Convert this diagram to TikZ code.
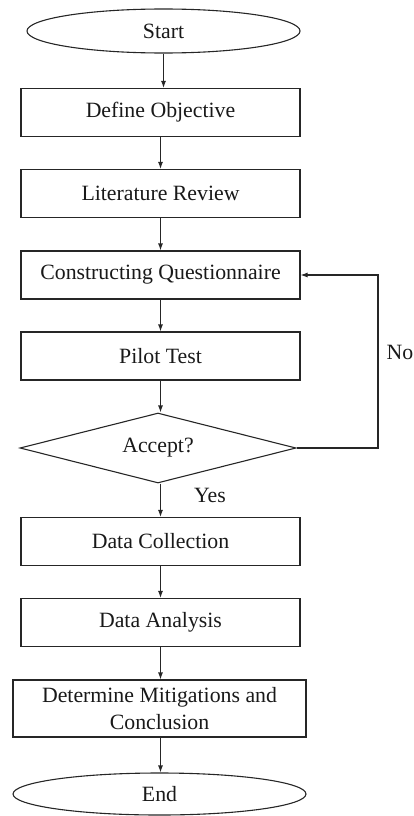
\documentclass[tikz,border=0pt]{standalone}
\usepackage{fontspec}
\setmainfont{Liberation Serif}
\usetikzlibrary{shapes.geometric,arrows.meta}
\begin{document}
\begin{tikzpicture}[x=1pt,y=-1pt,
  every node/.style={font=\fontsize{21.8}{27}\selectfont, text=black!90},
  box/.style={draw=black!85, line width=1.1pt, rectangle, inner sep=0pt, minimum width=279pt, minimum height=48pt, align=center},
  term/.style={draw=black!85, line width=1.1pt, ellipse, inner sep=0pt},
  dec/.style={draw=black!85, line width=1.1pt, diamond, aspect=3.9, inner sep=0pt, minimum width=276pt, minimum height=70pt},
  arr/.style={draw=black!85, line width=1.1pt, -{Latex[length=7pt,width=5pt]}},
  lbl/.style={inner sep=0pt}
]
\useasboundingbox (0,0) rectangle (414,816);
\node[term, minimum width=273pt, minimum height=44pt] (start) at (163.5,31) {Start};
\node[box] (def) at (160.5,112.5) {Define Objective};
\node[box] (lit) at (160.5,193.5) {Literature Review};
\node[box] (cq) at (160.5,275) {Constructing Questionnaire};
\node[box] (pilot) at (160.5,356) {Pilot Test};
\node[dec] (acc) at (158,448) {Accept?};
\node[box] (dc) at (160.5,541.5) {Data Collection};
\node[box] (da) at (160.5,622.5) {Data Analysis};
\node[box, minimum width=293pt, minimum height=57pt] (dm) at (159.5,708.5) {Determine Mitigations and\\Conclusion};
\node[term, minimum width=293pt, minimum height=42pt] (end) at (159.5,794) {End};
\node[lbl] (yes) at (210,495) {Yes};
\node[lbl, anchor=east] (no) at (413.5,352) {No};
\coordinate (loop) at (378,448);

\draw[arr] (start.south) -- (start.south |- def.north);
\draw[arr] (def) -- (lit);
\draw[arr] (lit) -- (cq);
\draw[arr] (cq) -- (pilot);
\draw[arr] (pilot.south) -- (pilot.south |- acc.north);
\draw[arr] (acc.south -| dc.north) -- (dc.north);
\draw[arr] (dc) -- (da);
\draw[arr] (da) -- (da.south |- dm.north);
\draw[arr] (dm.south -| da.south) -- (da.south |- end.north);
\draw[arr] (acc.east) -- (loop) |- (cq.east);
\end{tikzpicture}
\end{document}
